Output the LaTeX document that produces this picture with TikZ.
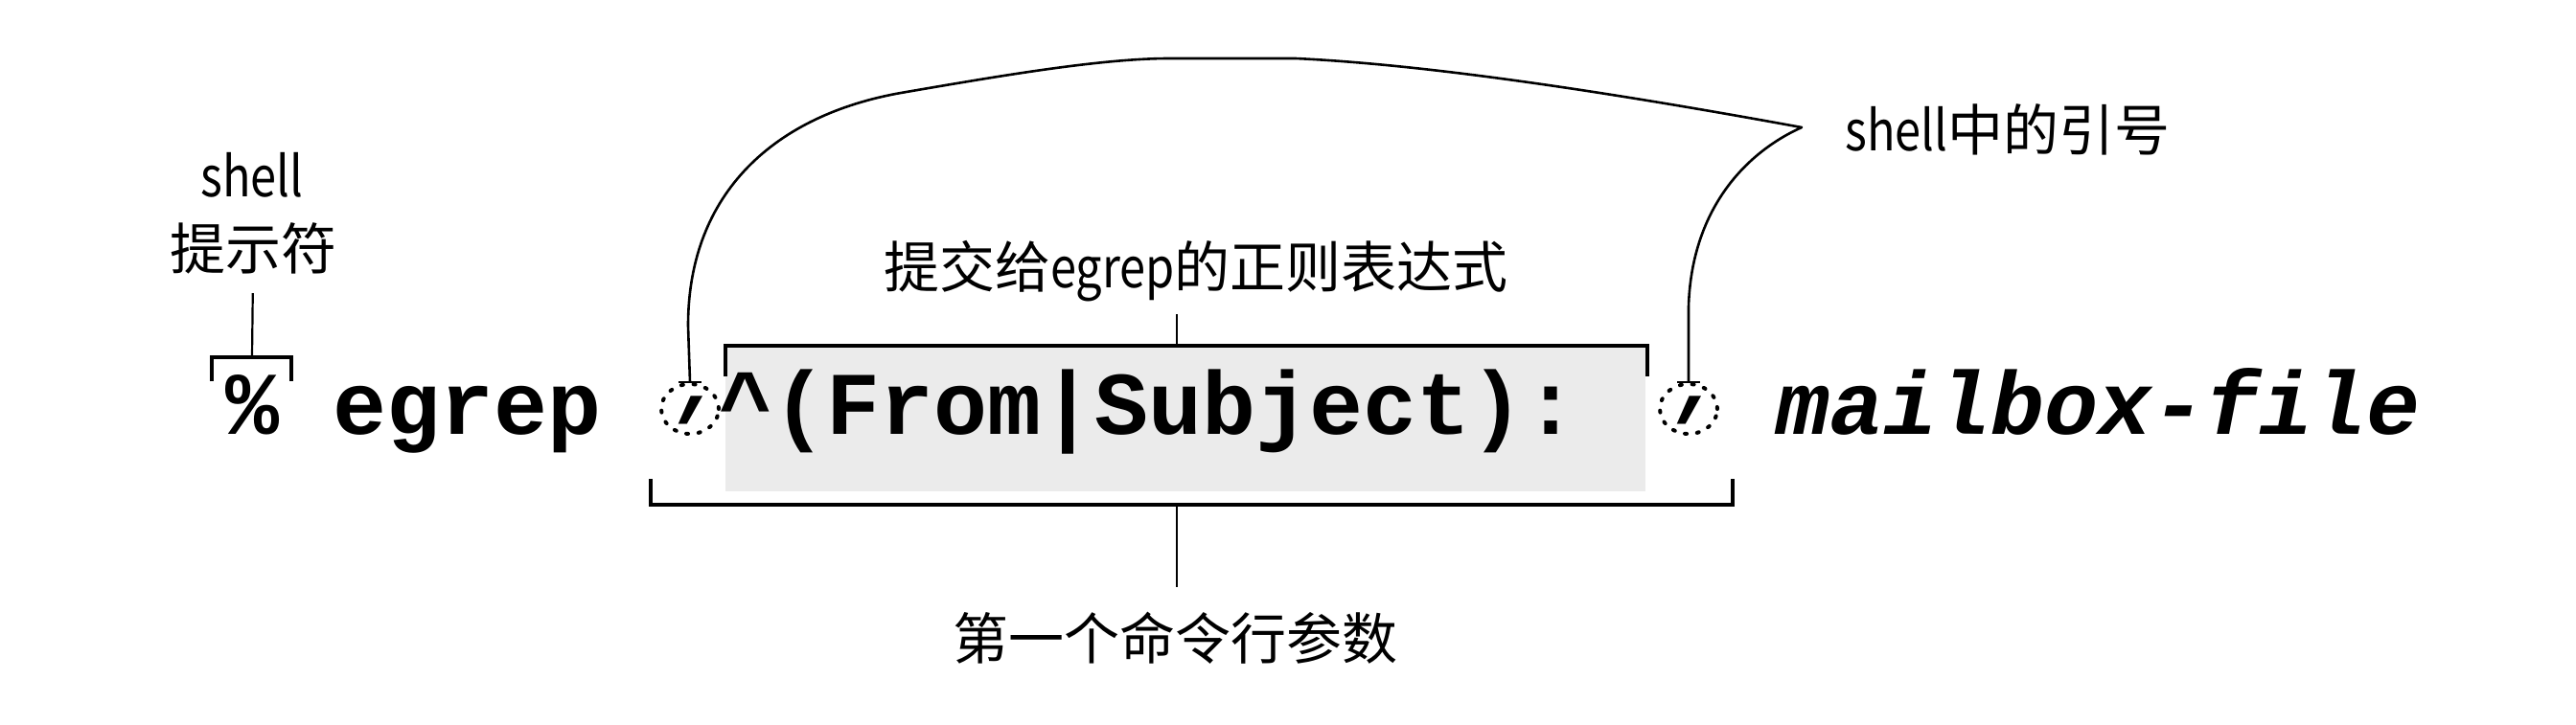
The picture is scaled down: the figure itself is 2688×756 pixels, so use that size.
\documentclass[tikz,border=0pt]{standalone}
\usepackage{fontspec}
\usepackage{graphicx}
\newfontfamily\cjk{Noto Sans CJK SC}
\newfontfamily\codefont{Liberation Mono}
\newcommand\latn[1]{\scalebox{0.84}[1]{#1}}
\usetikzlibrary{calc,shapes.geometric}
\definecolor{boxgray}{RGB}{235,235,235}
\tikzset{
  lbl/.style={inner sep=0pt, font=\cjk\fontsize{29}{34}\selectfont},
  code/.style={inner sep=0pt, anchor=base west, font=\codefont\bfseries\fontsize{46.67}{50}\selectfont},
  quotech/.style={inner sep=0pt, anchor=base, font=\codefont\bfseries\fontsize{46.67}{50}\selectfont, transform shape},
  brk/.style={line width=1.7pt, black},
  tick/.style={line width=1.1pt, black},
  curve/.style={line width=1.3pt, black, line join=round},
  dotc/.style={draw, ellipse, minimum width=30pt, minimum height=26pt, inner sep=0pt, line width=2pt, line cap=round, dash pattern=on 1pt off 5.4pt},
}
\begin{document}
\begin{tikzpicture}[x=0.5pt,y=-0.5pt]
\useasboundingbox (0,0) rectangle (2688,756);
\fill[white] (0,0) rectangle (2688,756);

% gray box behind regex
\node[fill=boxgray, inner sep=0pt, minimum width=480pt, minimum height=76pt, anchor=north west] (box) at (757,361) {};

% prompt label
\node[lbl, anchor=base] (pshell) at (263,205) {\latn{shell}};
\node[lbl, anchor=base] (pprompt) at (264,281) {提示符};
\coordinate (pbr) at (263,373);
\draw[brk] (221,398) -- (221,373) -- (304,373) -- (304,398);
\draw[tick, shorten <=10pt] (pprompt.south) -- (pbr);

% command line
\node[code] (pct) at (235,453) {\%};
\node[code] (egrep) at (347,453) {egrep};
\node[code] (regex) at (750,453) {\textasciicircum(From|Subject):};
\node[code, font=\codefont\bfseries\itshape\fontsize{46.67}{50}\selectfont] (mbox) at (1853,453) {mailbox-file};

% quotes with dotted circles
\node[dotc] (qL) at (720,427) {};
\node[dotc] (qR) at (1762,427) {};
\begin{scope}[shift={(qL.center)}, xslant=0.5]
  \node[quotech] (qLq) at (0,54) {'};
\end{scope}
\begin{scope}[shift={(qR.center)}, xslant=0.5]
  \node[quotech] (qRq) at (0,54) {'};
\end{scope}

% bracket over the regex
\draw[brk] (757,393) -- (757,361) -- (1719,361) -- (1719,393);
\node[lbl, anchor=base] (relbl) at (1248,300) {提交给\latn{egrep}的正则表达式};
\coordinate (rebr) at (1228,361);
\draw[tick] (1228,328) -- (rebr);

% bracket under the argument
\draw[brk] (679,500) -- (679,527) -- (1808,527) -- (1808,500);
\coordinate (argbr) at (1228,527);
\node[lbl, anchor=base] (arglbl) at (1226,688) {第一个命令行参数};
\draw[tick] (argbr) -- (1228,613);

% quotes label and curve
\node[lbl, anchor=base west] (qlbl) at (1925,157) {\latn{shell}中的引号};
\coordinate (tip) at (1880,133);
\draw[curve] (qL.north) -- (718,340)
  .. controls (718,200) and (810,120) .. (940,97)
  .. controls (1044,79) and (1150,61) .. (1220,61)
  -- (1352,61)
  .. controls (1500,68) and (1700,100) .. (tip)
  .. controls (1820,160) and (1765,220) .. (1762,320)
  -- (qR.north);
\draw[curve] ([xshift=-6pt]qL.north) -- ([xshift=6pt]qL.north);
\draw[curve] ([xshift=-6pt]qR.north) -- ([xshift=6pt]qR.north);
\end{tikzpicture}
\end{document}
